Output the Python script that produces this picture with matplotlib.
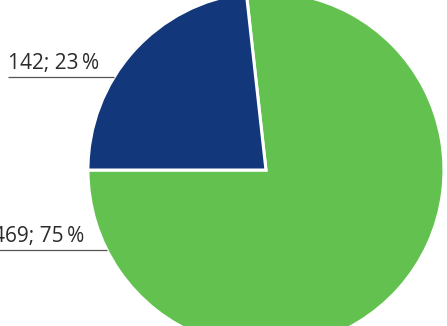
import matplotlib
matplotlib.use("Agg")
import matplotlib.pyplot as plt
import numpy as np

# data
values = [469, 142]
percents = [75, 23]
colors = ["#63c24f", "#12377a"]
label_y = [-0.449, 0.522]     # height of each leader line (data units)
label_x = [-1.535, -1.449]    # left end of each label

plt.rcParams["font.family"] = ["Open Sans", "DejaVu Sans"]

fig = plt.figure(figsize=(4.47, 3.26), dpi=100)
ax = fig.add_axes([0, 0, 1, 1])

ax.pie(
    values,
    colors=colors,
    startangle=180,
    counterclock=True,
    radius=1.0,
    wedgeprops=dict(edgecolor="white", linewidth=2.2),
)

for v, p, y, x0 in zip(values, percents, label_y, label_x):
    x_edge = -np.sqrt(1 - y ** 2)
    ax.plot([x0, x_edge], [y, y], color="#555555", lw=0.9, solid_capstyle="butt")
    ax.text(x0, y + 0.018, f"{v}; {p}\u2009%", ha="left", va="bottom",
            fontsize=15, color="#2b2b2b", fontweight="medium")

ax.set_xlim(-1.494, 1.017)
ax.set_ylim(-0.876, 0.955)
ax.set_aspect("auto")
ax.axis("off")

fig.savefig("out.png", dpi=100)
